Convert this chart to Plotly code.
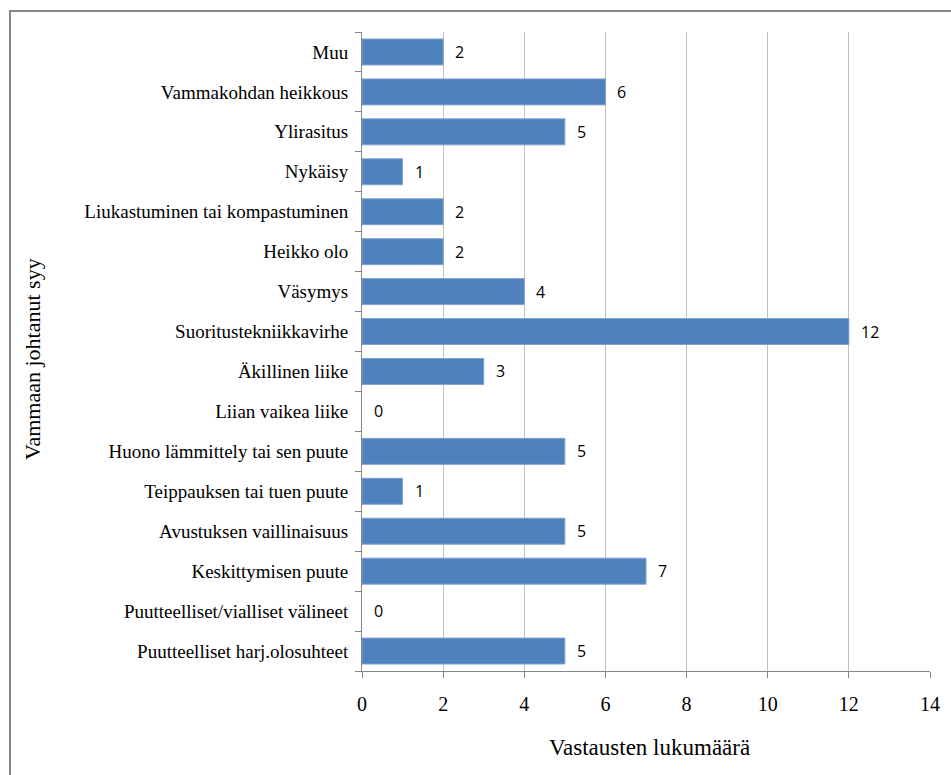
import plotly.graph_objects as go

categories = [
    "Puutteelliset harj.olosuhteet",
    "Puutteelliset/vialliset välineet",
    "Keskittymisen puute",
    "Avustuksen vaillinaisuus",
    "Teippauksen tai tuen puute",
    "Huono lämmittely tai sen puute",
    "Liian vaikea liike",
    "Äkillinen liike",
    "Suoritustekniikkavirhe",
    "Väsymys",
    "Heikko olo",
    "Liukastuminen tai kompastuminen",
    "Nykäisy",
    "Ylirasitus",
    "Vammakohdan heikkous",
    "Muu",
]
values = [5, 0, 7, 5, 1, 5, 0, 3, 12, 4, 2, 2, 1, 5, 6, 2]
x_ticks = [0, 2, 4, 6, 8, 10, 12, 14]
x_title = "Vastausten lukumäärä"
y_title = "Vammaan johtanut syy"

W, H = 951, 775
L, R, T, B = 362, 930, 32, 671

serif = "Liberation Serif, Times New Roman, serif"
sans = "Open Sans, Noto Sans, sans-serif"

fig = go.Figure()
fig.add_trace(go.Bar(
    x=values, y=categories, orientation="h",
    marker=dict(color="#4F81BD",
                line=dict(color="#7FA2D0", width=[1 if v > 0 else 0 for v in values])),
    hoverinfo="x+y",
))

annotations = []
for c, v in zip(categories, values):
    annotations.append(dict(
        x=v, y=c, xref="x", yref="y", text=str(v), showarrow=False,
        xanchor="left", yanchor="middle", xshift=10,
        font=dict(family=sans, size=16, color="#000000"),
    ))

def px2x(px):
    return (px - L) / (R - L)

def py2y(py):
    return (B - py) / (B - T)

annotations.append(dict(
    x=px2x(32), y=py2y(359), xref="paper", yref="paper", text=y_title,
    showarrow=False, textangle=-90, xanchor="center", yanchor="middle",
    font=dict(family=serif, size=22, color="#000000"),
))
annotations.append(dict(
    x=px2x(649), y=py2y(747), xref="paper", yref="paper", text=x_title,
    showarrow=False, xanchor="center", yanchor="middle",
    font=dict(family=serif, size=23, color="#000000"),
))

fig.update_layout(
    width=W, height=H,
    margin=dict(l=L, r=W - R, t=T, b=H - B, pad=0),
    paper_bgcolor="white", plot_bgcolor="white",
    showlegend=False,
    bargap=0.35,
    annotations=annotations,
    shapes=[dict(
        type="rect", xref="paper", yref="paper",
        x0=px2x(10), x1=px2x(975), y0=py2y(800), y1=py2y(11),
        line=dict(color="#868686", width=2), fillcolor="rgba(0,0,0,0)",
        layer="below",
    )],
    xaxis=dict(
        range=[0, 14], tickvals=x_ticks, ticktext=[str(t) for t in x_ticks],
        showgrid=True, gridcolor="#BFBFBF", gridwidth=1,
        showline=True, linecolor="#868686", linewidth=1,
        ticks="outside", ticklen=6, tickcolor="#868686",
        tickfont=dict(family=serif, size=20, color="#000000"),
        zeroline=False, fixedrange=True,
        ticklabelstandoff=9,
    ),
    yaxis=dict(
        categoryorder="array", categoryarray=categories,
        showgrid=False,
        showline=True, linecolor="#868686", linewidth=1,
        ticks="outside", ticklen=6, tickcolor="#868686", tickson="boundaries",
        tickfont=dict(family=serif, size=19, color="#000000"),
        ticklabelstandoff=9,
        fixedrange=True,
    ),
)

fig.write_html("out.html")
